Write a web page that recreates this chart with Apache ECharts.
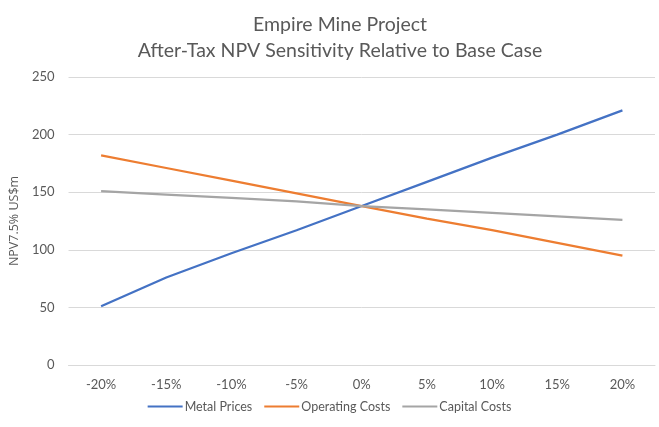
<!DOCTYPE html>
<html>
<head>
<meta charset="utf-8">
<script src="https://cdn.jsdelivr.net/npm/echarts@6/dist/echarts.min.js"></script>
<style>html,body{margin:0;padding:0;background:#fff}#c{width:659px;height:427px}</style>
</head>
<body>
<div id="c"></div>
<script>
const categories = ['-20%','-15%','-10%','-5%','0%','5%','10%','15%','20%'];
const metalPrices = [51, 76, 97, 117, 138, 159, 180, 200, 221];
const operatingCosts = [182, 171, 160, 149, 138, 127, 117, 106, 95];
const capitalCosts = [151, 148, 145, 142, 138, 135, 132, 129, 126];
const yTicks = [0, 50, 100, 150, 200, 250];

const chart = echarts.init(document.getElementById('c'), null, {renderer: 'canvas'});
const font = 'Lato, "Open Sans", sans-serif';
function mk(name, data, color) {
  return {name, type: 'line', data, symbol: 'none', smooth: false,
    lineStyle: {color, width: 2.25}, itemStyle: {color}};
}
chart.setOption({
  animation: false,
  title: {
    text: 'Empire Mine Project\nAfter-Tax NPV Sensitivity Relative to Base Case',
    left: 335, top: 7, textAlign: 'center',
    textStyle: {fontFamily: font, fontSize: 19.5, fontWeight: 'normal', color: '#595959', lineHeight: 26}
  },
  legend: {
    bottom: 9, left: 'center', itemWidth: 35, itemHeight: 2, itemGap: 12,
    icon: 'rect',
    textStyle: {fontFamily: font, fontSize: 12.5, color: '#595959', padding: [0,0,0,-3]},
    data: ['Metal Prices', 'Operating Costs', 'Capital Costs']
  },
  grid: {left: 67, right: 4, top: 77, bottom: 62, containLabel: false},
  xAxis: {
    type: 'category', data: categories, boundaryGap: true,
    axisLine: {lineStyle: {color: '#D9D9D9'}},
    axisTick: {show: false},
    axisLabel: {fontFamily: font, fontSize: 13, color: '#595959', margin: 13}
  },
  yAxis: {
    type: 'value', min: yTicks[0], max: yTicks[yTicks.length-1], interval: 50,
    name: 'NPV7.5% US$m', nameLocation: 'middle', nameGap: 42, nameRotate: 90,
    nameTextStyle: {fontFamily: '"Open Sans", sans-serif', fontSize: 12.5, color: '#595959'},
    axisLine: {show: false}, axisTick: {show: false},
    splitLine: {lineStyle: {color: '#D9D9D9'}},
    axisLabel: {fontFamily: font, fontSize: 13, color: '#595959', margin: 14}
  },
  series: [
    mk('Metal Prices', metalPrices, '#4472C4'),
    mk('Operating Costs', operatingCosts, '#ED7D31'),
    mk('Capital Costs', capitalCosts, '#A5A5A5')
  ]
});
</script>
</body>
</html>
